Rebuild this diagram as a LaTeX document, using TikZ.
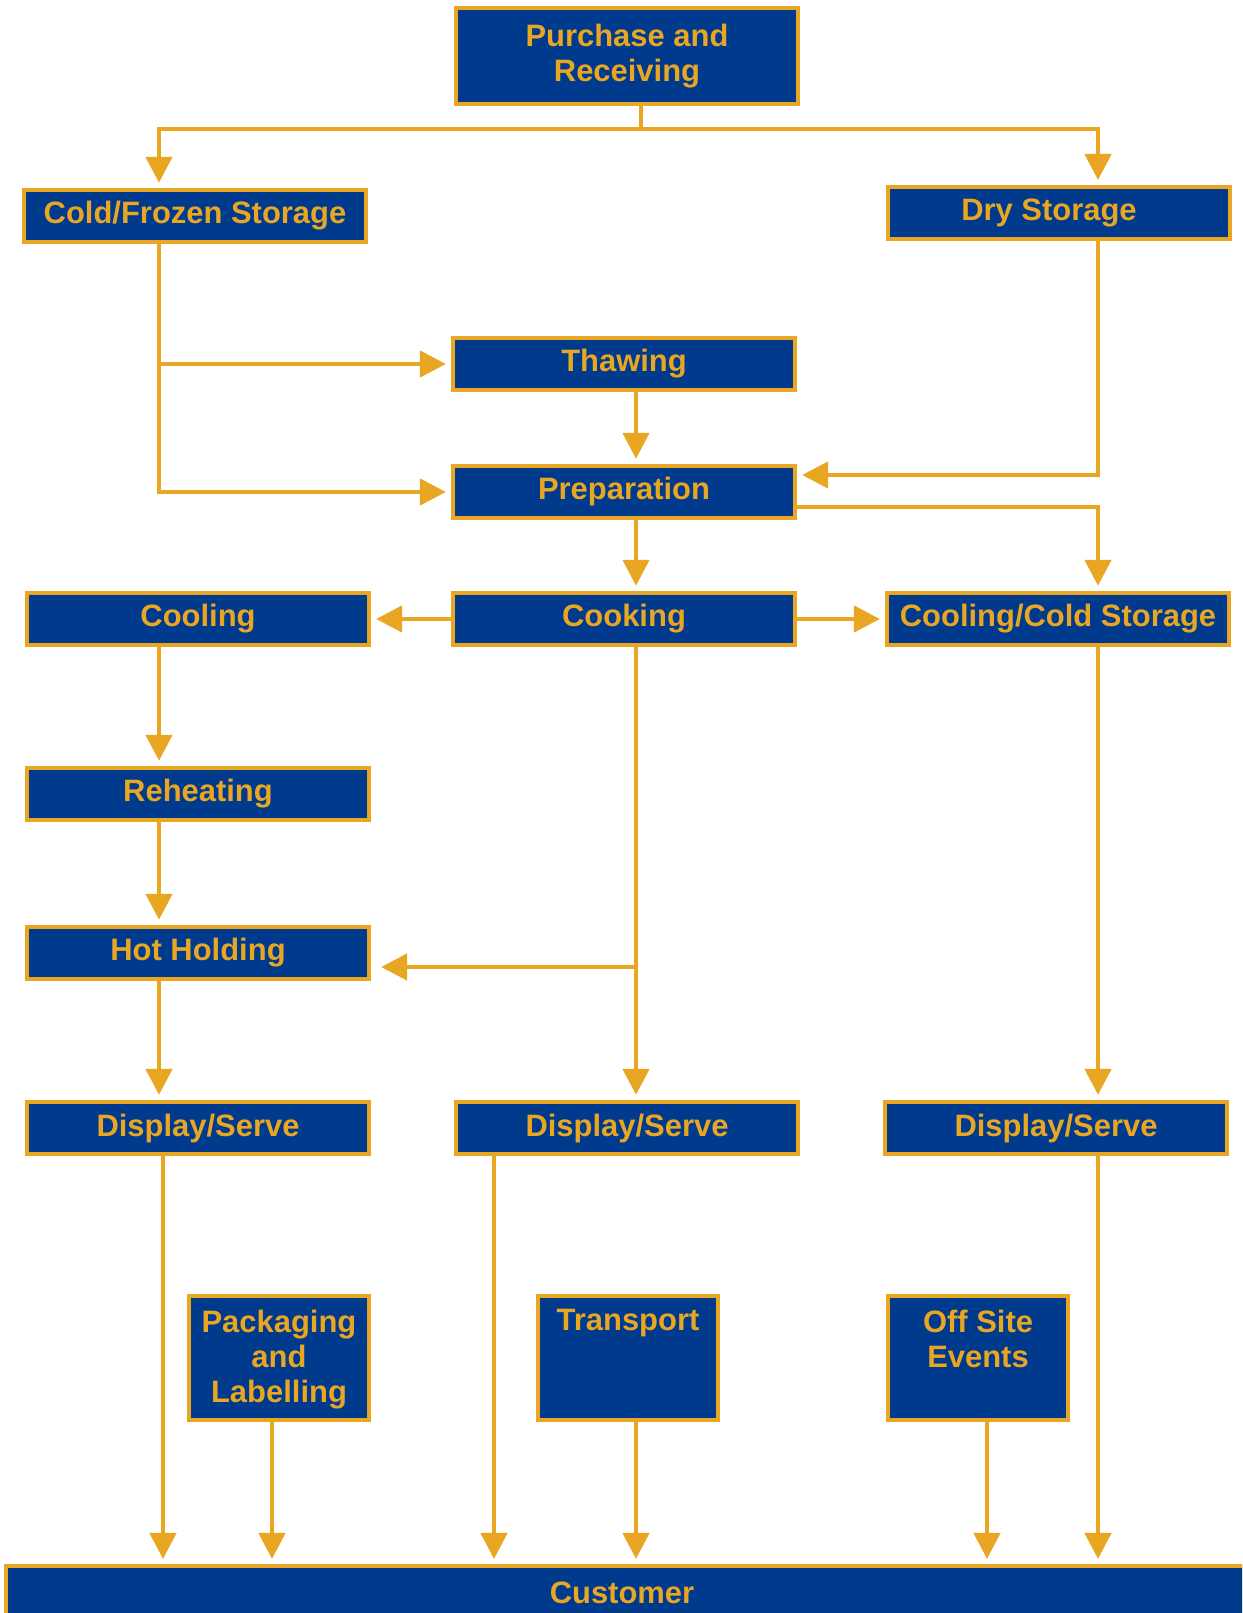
\documentclass[tikz,border=0pt]{standalone}
\usepackage{fontspec}
\setmainfont{Liberation Sans}
\usetikzlibrary{arrows.meta}
\definecolor{boxblue}{RGB}{0,58,140}
\definecolor{gold}{RGB}{232,166,34}
\tikzset{
  box/.style={draw=gold, fill=boxblue, text=gold, line width=0.04cm,
    minimum width=3.42cm, minimum height=0.52cm, align=center,
    font=\bfseries\fontsize{8.8}{10}\selectfont},
  tall/.style={box, minimum width=1.79cm, minimum height=1.24cm},
  lbl/.style={text=gold, align=center, anchor=north, inner sep=0.15cm,
    font=\bfseries\fontsize{8.8}{10}\selectfont},
  arr/.style={draw=gold, line width=0.045cm,
    -{Triangle[length=0.26cm,width=0.26cm]}, shorten >=0.05cm},
  link/.style={draw=gold, line width=0.045cm}
}
\begin{document}
\begin{tikzpicture}[x=0.01cm,y=-0.01cm]
      \useasboundingbox (0,0) rectangle (1242,1613);
      \clip (0,0) rectangle (1242,1613);
      \draw
        (627,56) node[box, minimum height=0.96cm] (purch){Purchase and\\Receiving}
        (195,216) node[box] (cold){Cold/Frozen Storage}
        (1059,213) node[box] (dry){Dry Storage\hspace*{0.2cm}}
        (624,364) node[box] (thaw){Thawing}
        (624,492) node[box] (prep){Preparation}
        (624,619) node[box] (cook){Cooking}
        (198,619) node[box] (cool){Cooling}
        (1058,619) node[box] (ccs){Cooling/Cold Storage}
        (198,794) node[box] (reheat){Reheating}
        (198,953) node[box] (hot){Hot Holding}
        (198,1128) node[box] (disL){Display/Serve}
        (627,1128) node[box] (disM){Display/Serve}
        (1056,1128) node[box] (disR){Display/Serve}
        (279,1358) node[tall, label={[lbl]north:Packaging\\and\\Labelling}] (pack){}
        (628,1358) node[tall, label={[lbl]north:Transport}] (trans){}
        (978,1358) node[tall, label={[lbl]north:Off Site\\Events}] (off){}
        (630,1593) node[box, minimum width=12.48cm, minimum height=0.54cm] (cust){Customer\hspace*{0.16cm}};
      % columns of the connectors
      \coordinate (split) at (641,129);
      \coordinate (lx) at (159,0);
      \coordinate (mx) at (636,0);
      \coordinate (rx) at (1098,0);
      \coordinate (hb) at (636,967);
      \coordinate (k1) at (163,0);
      \coordinate (k2) at (272,0);
      \coordinate (k3) at (494,0);
      \coordinate (k4) at (987,0);
      \draw[link] (purch.south -| split) to (split);
      \begin{scope}[arr]
        \draw (split) -| (cold.north -| lx);
        \draw (split) -| (dry.north -| rx);
        \draw (cold.south -| lx) |- (thaw.west);
        \draw (cold.south -| lx) |- (prep.west);
        \draw (dry.south -| rx) |- ([yshift=0.17cm]prep.east);
        \draw (thaw.south -| mx) to (prep.north -| mx);
        \draw (prep.south -| mx) to (cook.north -| mx);
        \draw ([yshift=-0.15cm]prep.east) -| (ccs.north -| rx);
        \draw (cook.east) to (ccs.west);
        \draw (cook.west) to (cool.east);
        \draw (cool.south -| lx) to (reheat.north -| lx);
        \draw (reheat.south -| lx) to (hot.north -| lx);
        \draw (hot.south -| lx) to (disL.north -| lx);
        \draw (cook.south -| mx) to (disM.north -| mx);
        \draw[shorten >=0.1cm] (hb) to (hot.east |- hb);
        \draw (ccs.south -| rx) to (disR.north -| rx);
        \draw (disL.south -| k1) to (cust.north -| k1);
        \draw (pack.south -| k2) to (cust.north -| k2);
        \draw (disM.south -| k3) to (cust.north -| k3);
        \draw (trans.south -| mx) to (cust.north -| mx);
        \draw (off.south -| k4) to (cust.north -| k4);
        \draw (disR.south -| rx) to (cust.north -| rx);
      \end{scope}
    \end{tikzpicture}
\end{document}
